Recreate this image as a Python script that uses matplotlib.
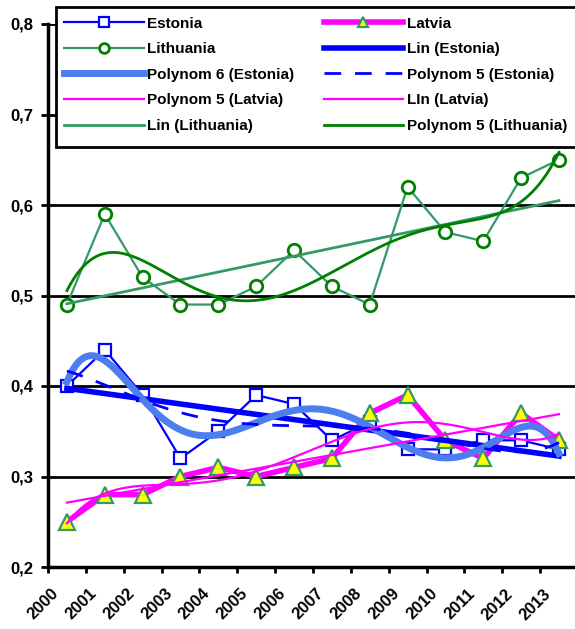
import matplotlib
matplotlib.use('Agg')
import matplotlib.pyplot as plt
import matplotlib.transforms as mtrans
import numpy as np
from matplotlib.patches import Rectangle
from matplotlib.ticker import FixedLocator, FuncFormatter, NullFormatter

years = ['2000', '2001', '2002', '2003', '2004', '2005', '2006',
         '2007', '2008', '2009', '2010', '2011', '2012', '2013']
estonia = [0.40, 0.44, 0.39, 0.32, 0.35, 0.39, 0.38,
           0.34, 0.36, 0.33, 0.33, 0.34, 0.34, 0.33]
latvia = [0.25, 0.28, 0.28, 0.30, 0.31, 0.30, 0.31,
          0.32, 0.37, 0.39, 0.34, 0.32, 0.37, 0.34]
lithuania = [0.49, 0.59, 0.52, 0.49, 0.49, 0.51, 0.55,
             0.51, 0.49, 0.62, 0.57, 0.56, 0.63, 0.65]

plt.rcParams['font.family'] = ['Liberation Sans', 'DejaVu Sans']
plt.rcParams['font.weight'] = 'bold'

SEA = '#339966'
GREEN = '#008000'
BLUE = '#0000FF'
LBLUE = '#4D7EF0'
MAG = '#FF00FF'


def trend(values, deg):
    # Excel-style trendline: least squares fit over the category index
    x = np.arange(len(values))
    coef = np.polyfit(x, values, deg)
    xs = np.linspace(0, len(values) - 1, 300)
    return xs, np.polyval(coef, xs)


fig = plt.figure(figsize=(5.75, 6.29), dpi=100)
W, H = 575, 629
ax = fig.add_axes([48 / W, 1 - 567 / H, 527 / W, (567 - 24) / H])

x = np.arange(len(years))

h_est, = ax.plot(x, estonia, color=BLUE, lw=1.6, marker='s', ms=9,
                 mfc='white', mec=BLUE, mew=1.6, zorder=3, label='Estonia')
h_lat, = ax.plot(x, latvia, color=MAG, lw=4, marker='^', ms=11,
                 mfc='#FFFF00', mec=SEA, mew=1.6, zorder=3, label='Latvia')
h_lit, = ax.plot(x, lithuania, color=SEA, lw=1.6, marker='o', ms=9,
                 mfc='white', mec=GREEN, mew=2, zorder=3, label='Lithuania')

xs, ys = trend(estonia, 1)
h_lin_est, = ax.plot(xs, ys, color=BLUE, lw=4, zorder=4, label='Lin (Estonia)')
xs, ys = trend(estonia, 6)
h_p6_est, = ax.plot(xs, ys, color=LBLUE, lw=5, zorder=4, label='Polynom 6 (Estonia)')
xs, ys = trend(estonia, 5)
h_p5_est, = ax.plot(xs, ys, color=BLUE, lw=2, ls=(0, (6, 5)), zorder=4,
                    label='Polynom 5 (Estonia)')
xs, ys = trend(latvia, 5)
h_p5_lat, = ax.plot(xs, ys, color=MAG, lw=1.6, zorder=4, label='Polynom 5 (Latvia)')
xs, ys = trend(latvia, 1)
h_lin_lat, = ax.plot(xs, ys, color=MAG, lw=1.6, zorder=4, label='LIn (Latvia)')
xs, ys = trend(lithuania, 1)
h_lin_lit, = ax.plot(xs, ys, color=SEA, lw=2, zorder=4, label='Lin (Lithuania)')
xs, ys = trend(lithuania, 5)
h_p5_lit, = ax.plot(xs, ys, color=GREEN, lw=2, zorder=4, label='Polynom 5 (Lithuania)')

ax.set_xlim(-0.5, -0.5 + 527 / 37.85)
ax.set_ylim(0.2, 0.8)
ax.set_yticks([0.2, 0.3, 0.4, 0.5, 0.6, 0.7, 0.8])
ax.yaxis.set_major_formatter(FuncFormatter(lambda v, p: f'{v:.1f}'.replace('.', ',')))
ax.yaxis.grid(True, color='black', lw=2)
ax.set_axisbelow(True)

# ticks sit between the categories, labels under each category
ax.xaxis.set_major_locator(FixedLocator(np.arange(len(years) + 1) - 0.5))
ax.xaxis.set_major_formatter(NullFormatter())
ax.tick_params(axis='x', which='major', direction='out', length=4.5, width=2)
ax.tick_params(axis='y', direction='out', length=5, width=2, labelsize=12, pad=5.5)

shift = mtrans.ScaledTranslation(-16 / 100, -19 / 100, fig.dpi_scale_trans)
for xi, yr in zip(x, years):
    ax.text(xi, 0, yr, transform=ax.get_xaxis_transform() + shift,
            rotation=45, ha='right', va='top', rotation_mode='anchor',
            fontsize=12, fontweight='bold', clip_on=False)

for s in ['top', 'right']:
    ax.spines[s].set_visible(False)
for s in ['left', 'bottom']:
    ax.spines[s].set_linewidth(2.5)

# legend box, drawn by hand so it can run off the right edge like the original
fig.patches.append(Rectangle((56 / W, 1 - 147 / H), 530 / W, 140 / H,
                             transform=fig.transFigure, facecolor='white',
                             edgecolor='black', lw=2, zorder=9))

# legend filled column by column, so reorder to read row by row
handles = [h_est, h_lit, h_p6_est, h_p5_lat, h_lin_lit,
           h_lat, h_lin_est, h_p5_est, h_lin_lat, h_p5_lit]
leg = fig.legend(handles=handles, ncol=2, loc='upper left',
                 bbox_to_anchor=(61 / W, 1 - 13.5 / H), frameon=False,
                 prop={'weight': 'bold', 'size': 11}, handlelength=5.2,
                 handletextpad=0.26, borderaxespad=0, labelspacing=0.76,
                 columnspacing=1.9, borderpad=0.2)
leg.set_zorder(10)
for lh in leg.legend_handles:
    if lh.get_marker() not in (None, 'None', ''):
        lh.set_markersize(7)

fig.savefig('out.png', dpi=100)
